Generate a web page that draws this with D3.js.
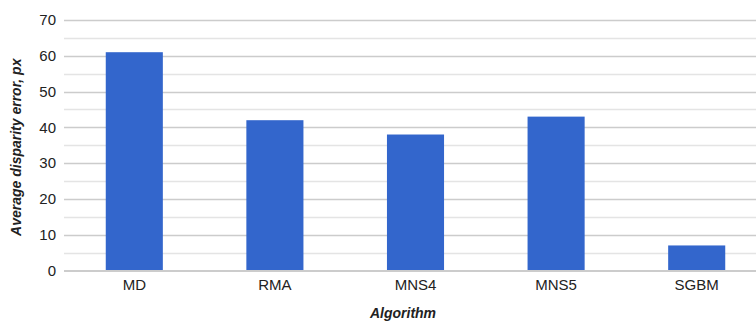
<!DOCTYPE html>
<html>
<head>
<meta charset="utf-8">
<script src="https://cdn.jsdelivr.net/npm/d3@7/dist/d3.min.js"></script>
<style>
  html, body { margin: 0; padding: 0; background: #fff; }
  svg { display: block; font-family: "Liberation Sans", Arial, sans-serif; }
</style>
</head>
<body>
<svg id="chart" width="756" height="321"></svg>
<script>
// Average disparity error per stereo matching algorithm
const algorithms = ["MD", "RMA", "MNS4", "MNS5", "SGBM"];
const errors = [61, 42, 38, 43, 7];
const yTicks = [0, 10, 20, 30, 40, 50, 60, 70];
const yMinorTicks = [5, 15, 25, 35, 45, 55, 65];

const svg = d3.select("#chart");
const plotLeft = 64, plotRight = 767, plotTop = 20, plotBottom = 270.5;

const x = d3.scaleBand()
  .domain(algorithms)
  .range([plotLeft, plotRight])
  .paddingInner(0.594)
  .paddingOuter(0.297);

const y = d3.scaleLinear().domain([0, 70]).range([plotBottom, plotTop]);

// minor gridlines
svg.append("g").selectAll("line")
  .data(yMinorTicks).join("line")
  .attr("x1", plotLeft).attr("x2", 756)
  .attr("y1", d => Math.round(y(d)) + 0.5).attr("y2", d => Math.round(y(d)) + 0.5)
  .attr("stroke", "#e4e4e4").attr("stroke-width", 1.5);

// major gridlines
svg.append("g").selectAll("line")
  .data(yTicks.filter(d => d > 0)).join("line")
  .attr("x1", plotLeft).attr("x2", 756)
  .attr("y1", d => Math.round(y(d)) + 0.5).attr("y2", d => Math.round(y(d)) + 0.5)
  .attr("stroke", "#cccccc").attr("stroke-width", 1.5);

// bars
svg.append("g").selectAll("rect")
  .data(algorithms).join("rect")
  .attr("x", d => x(d))
  .attr("width", x.bandwidth())
  .attr("y", (d, i) => y(errors[i]))
  .attr("height", (d, i) => y(0) - y(errors[i]))
  .attr("fill", "#3366cc");

// baseline
svg.append("line")
  .attr("x1", plotLeft).attr("x2", 756)
  .attr("y1", y(0) + 0.5).attr("y2", y(0) + 0.5)
  .attr("stroke", "#cccccc").attr("stroke-width", 2);

// y axis labels
const yAxis = d3.axisLeft(y).tickValues(yTicks).tickSize(0).tickPadding(8);
const gy = svg.append("g").attr("transform", `translate(${plotLeft},0)`).call(yAxis);
gy.select(".domain").remove();
gy.selectAll("text")
  .attr("font-family", "Liberation Sans, Arial, sans-serif")
  .attr("font-size", 15).attr("fill", "#222");

// x axis labels
const xAxis = d3.axisBottom(x).tickSize(0).tickPadding(9);
const gx = svg.append("g").attr("transform", `translate(0,${plotBottom})`).call(xAxis);
gx.select(".domain").remove();
gx.selectAll("text")
  .attr("font-family", "Liberation Sans, Arial, sans-serif")
  .attr("font-size", 15).attr("fill", "#222");

// axis titles
svg.append("text")
  .attr("x", 403).attr("y", 318)
  .attr("text-anchor", "middle")
  .attr("font-size", 14).attr("font-weight", "bold").attr("font-style", "italic")
  .attr("fill", "#222")
  .text("Algorithm");

svg.append("text")
  .attr("transform", `translate(21,${(plotTop + plotBottom) / 2 + 2}) rotate(-90)`)
  .attr("text-anchor", "middle")
  .attr("font-size", 14).attr("font-weight", "bold").attr("font-style", "italic")
  .attr("fill", "#222")
  .text("Average disparity error, px");
</script>
</body>
</html>
